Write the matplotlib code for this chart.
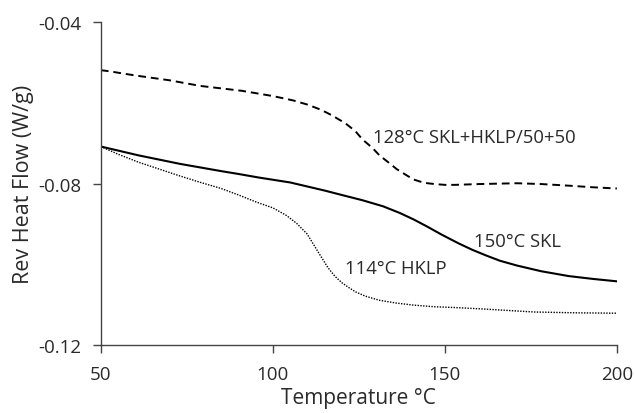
import matplotlib.pyplot as plt
import numpy as np

# values
temp_mix = [50, 52, 60, 70, 79, 91, 100, 106, 110, 114, 117, 121, 124, 126, 129, 131, 134, 136, 139, 141, 144, 147, 150, 153, 160, 171, 178, 186, 193, 200]
hf_mix = [-0.0519, -0.0521, -0.0532, -0.0544, -0.0558, -0.0570, -0.0583, -0.0594, -0.0604, -0.0617, -0.0630, -0.0650, -0.0670, -0.0690, -0.0712, -0.0730, -0.0750, -0.0764, -0.0780, -0.0790, -0.0798, -0.0801, -0.0803, -0.0803, -0.0801, -0.0799, -0.0801, -0.0805, -0.0809, -0.0812]

temp_skl = [50, 61, 73, 85, 90, 96, 105, 110, 115, 120, 126, 132, 137, 141, 145, 149, 154, 158, 162, 166, 171, 178, 186, 193, 200]
hf_skl = [-0.0708, -0.0730, -0.0751, -0.0769, -0.0776, -0.0785, -0.0797, -0.0807, -0.0817, -0.0828, -0.0841, -0.0856, -0.0873, -0.0889, -0.0907, -0.0926, -0.0948, -0.0964, -0.0978, -0.0991, -0.1003, -0.1017, -0.1029, -0.1036, -0.1042]

temp_hklp = [50, 55, 61, 67, 73, 79, 85, 90, 95, 100, 104, 107, 110, 113, 116, 118, 120, 122, 124, 127, 131, 136, 141, 147, 153, 160, 168, 176, 188, 200]
hf_hklp = [-0.0708, -0.0727, -0.0747, -0.0764, -0.0781, -0.0797, -0.0812, -0.0828, -0.0845, -0.0860, -0.0879, -0.0899, -0.0925, -0.0967, -0.1008, -0.1029, -0.1045, -0.1057, -0.1068, -0.1079, -0.1089, -0.1096, -0.1101, -0.1105, -0.1107, -0.1110, -0.1114, -0.1118, -0.1120, -0.1121]

labels = ["128°C SKL+HKLP/50+50", "150°C SKL", "114°C HKLP"]
label_pos = [(129, -0.0685), (158.5, -0.0942), (121, -0.1008)]

plt.rcParams['font.family'] = ['Open Sans', 'DejaVu Sans']

fig = plt.figure(figsize=(6.34, 4.14), dpi=100)
ax = fig.add_axes([0.159, 0.164, 0.814, 0.780])

ax.plot(temp_mix, hf_mix, color="black", lw=1.4, linestyle=(0, (4, 2.5)))
ax.plot(temp_skl, hf_skl, color="black", lw=1.5)
ax.plot(temp_hklp, hf_hklp, color="black", lw=1.0, linestyle=(0, (1, 1)))

for txt, (x, y) in zip(labels, label_pos):
    ax.text(x, y, txt, fontsize=13.3, color="#2a2a2a", va="center", ha="left")

ax.set_xlim(50, 200)
ax.set_ylim(-0.12, -0.04)
ax.set_xticks([50, 100, 150, 200])
ax.set_yticks([-0.12, -0.08, -0.04])
ax.set_yticklabels(["-0.12", "-0.08", "-0.04"])

for s in ["top", "right"]:
    ax.spines[s].set_visible(False)
for s in ["left", "bottom"]:
    ax.spines[s].set_color("#444444")
    ax.spines[s].set_linewidth(1.0)
ax.tick_params(direction="out", length=6, width=1.0, color="#444444", labelsize=13.5, labelcolor="#2a2a2a")
ax.tick_params(axis="x", pad=8)
ax.tick_params(axis="y", pad=8)

ax.set_xlabel("Temperature °C", fontsize=15, color="#2a2a2a", labelpad=3)
ax.set_ylabel("Rev Heat Flow (W/g)", fontsize=15.5, color="#2a2a2a", labelpad=3)

fig.savefig("out.png", dpi=100)
